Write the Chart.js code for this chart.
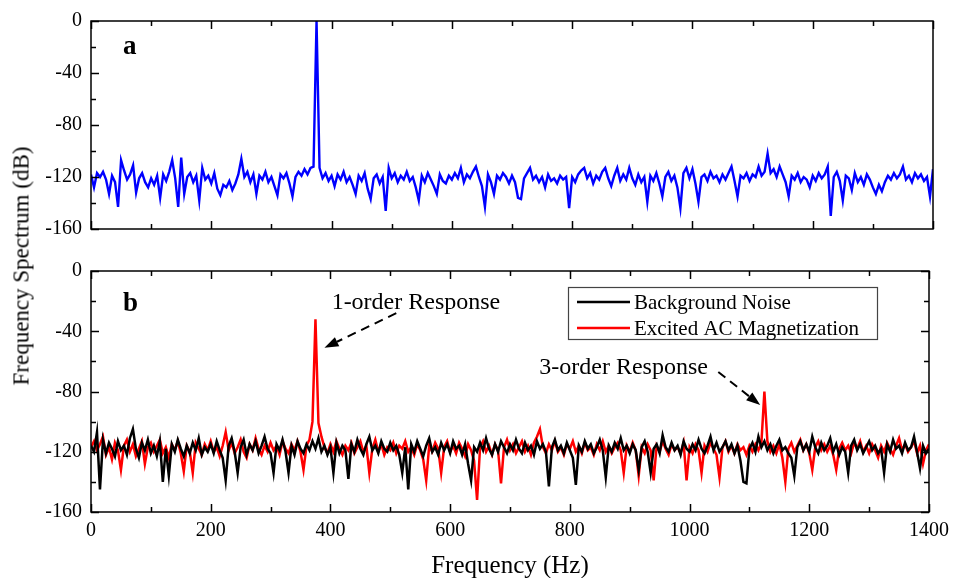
<!DOCTYPE html>
<html>
<head>
<meta charset="utf-8">
<script src="https://cdn.jsdelivr.net/npm/chart.js@4.4.0/dist/chart.umd.min.js"></script>
<style>
body { margin:0; background:#fff; width:956px; height:578px; position:relative; overflow:hidden; font-family:"Liberation Serif", "Times New Roman", serif; }
#wrapA { position:absolute; left:0; top:0; width:956px; height:250px; }
#wrapB { position:absolute; left:0; top:250px; width:956px; height:328px; }
#ytitle { position:absolute; left:21px; top:266px; transform:translate(-50%,-50%) rotate(-90deg); font-size:23px; line-height:1; white-space:nowrap; color:#000; }
</style>
</head>
<body>
<div id="wrapA"><canvas id="chartA" width="956" height="250"></canvas></div>
<div id="wrapB"><canvas id="chartB" width="956" height="328"></canvas></div>
<div id="ytitle">Frequency Spectrum (dB)</div>
<script>
// frequency grid: 0..1400 Hz, 5 Hz bins
var FREQ_STEP = 5;
var FREQ_MAX = 1400;

// panel a : measured spectrum (dB)
var spectrumA = [
  -118,-128,-117,-120,-116,-122,-133,-119,-124,-143,-107,-115,-122,-118,-111,-132,-121,-117,-124,-128,
  -121,-126,-119,-136,-118,-123,-116,-107,-121,-143,-105,-133,-120,-117,-124,-119,-138,-113,-122,-119,
  -125,-117,-129,-134,-126,-128,-123,-130,-125,-118,-106,-120,-116,-124,-118,-133,-119,-122,-116,-124,
  -120,-127,-134,-118,-121,-117,-125,-135,-120,-116,-119,-114,-118,-113,-112,0,-113,-121,-117,-123,
  -119,-127,-118,-122,-116,-124,-120,-126,-133,-119,-123,-117,-129,-137,-121,-118,-125,-120,-146,-113,
  -121,-117,-124,-119,-122,-116,-123,-120,-128,-138,-119,-124,-117,-122,-127,-133,-118,-123,-125,-119,
  -122,-117,-121,-113,-124,-118,-121,-116,-112,-120,-127,-143,-118,-124,-133,-119,-122,-117,-120,-125,
  -119,-124,-136,-137,-121,-117,-113,-122,-119,-124,-120,-128,-118,-123,-121,-125,-119,-122,-120,-144,
  -120,-124,-118,-115,-113,-121,-117,-125,-119,-122,-116,-113,-121,-127,-119,-113,-123,-118,-122,-113,
  -121,-126,-118,-124,-120,-139,-119,-123,-117,-125,-135,-120,-116,-123,-119,-128,-144,-117,-113,-121,
  -114,-125,-139,-120,-118,-123,-116,-121,-119,-124,-118,-122,-117,-112,-123,-135,-119,-121,-117,-123,
  -118,-120,-112,-119,-116,-102,-117,-114,-120,-112,-118,-124,-135,-119,-122,-117,-124,-120,-122,-128,
  -119,-123,-117,-121,-118,-112,-150,-120,-116,-123,-138,-119,-121,-130,-117,-124,-120,-126,-118,-122,
  -128,-133,-126,-131,-124,-119,-122,-117,-121,-118,-112,-122,-119,-124,-117,-121,-118,-123,-120,-135,
  -114
];

// panel b : background noise (dB)
var noiseB = [
  -116,-120,-107,-145,-112,-121,-114,-118,-123,-113,-119,-116,-122,-111,-105,-118,-124,-114,-119,-112,
  -121,-116,-123,-113,-140,-118,-136,-115,-120,-112,-118,-123,-116,-121,-114,-119,-111,-122,-117,-120,
  -115,-121,-113,-119,-124,-139,-116,-111,-120,-134,-117,-112,-122,-115,-119,-113,-121,-116,-110,-118,
  -121,-134,-115,-119,-112,-120,-134,-116,-122,-113,-118,-121,-115,-119,-113,-118,-111,-120,-116,-122,
  -117,-134,-114,-121,-116,-119,-138,-115,-120,-112,-118,-122,-115,-110,-119,-116,-121,-113,-118,-120,
  -114,-119,-116,-122,-134,-117,-145,-115,-120,-113,-118,-123,-116,-111,-120,-117,-122,-114,-119,-115,
  -121,-113,-118,-116,-122,-115,-128,-139,-117,-120,-114,-119,-111,-118,-122,-115,-120,-113,-117,-121,
  -115,-119,-112,-118,-121,-114,-119,-116,-122,-113,-118,-115,-120,-143,-117,-112,-119,-116,-121,-114,
  -119,-124,-142,-116,-120,-113,-118,-115,-121,-117,-112,-119,-137,-116,-120,-114,-118,-111,-119,-116,
  -121,-115,-119,-132,-117,-113,-120,-134,-118,-115,-121,-109,-117,-120,-114,-119,-116,-122,-113,-118,
  -120,-115,-119,-112,-118,-121,-116,-110,-119,-114,-120,-117,-113,-119,-115,-121,-116,-126,-140,-141,
  -118,-114,-120,-110,-117,-113,-119,-115,-121,-116,-112,-119,-117,-121,-124,-136,-117,-113,-119,-115,
  -120,-110,-117,-121,-114,-119,-116,-111,-120,-115,-122,-117,-120,-134,-116,-112,-119,-115,-121,-117,
  -113,-119,-116,-121,-118,-134,-115,-120,-112,-118,-116,-121,-114,-119,-117,-110,-120,-131,-116,-121,
  -118
];

// panel b : excited AC magnetization (dB)
var excitedB = [
  -117,-113,-119,-115,-110,-122,-117,-125,-114,-119,-132,-116,-112,-120,-115,-123,-118,-113,-128,-117,
  -114,-120,-116,-112,-121,-117,-124,-115,-119,-113,-121,-133,-116,-120,-134,-114,-118,-122,-115,-119,
  -113,-120,-117,-123,-116,-107,-119,-114,-121,-117,-112,-120,-124,-115,-119,-111,-118,-122,-116,-120,
  -114,-119,-116,-122,-113,-118,-121,-115,-119,-113,-120,-132,-116,-112,-100,-32,-101,-110,-117,-121,
  -115,-120,-113,-118,-122,-116,-119,-114,-121,-117,-113,-120,-116,-134,-118,-112,-120,-115,-122,-117,
  -119,-114,-121,-116,-118,-113,-120,-117,-122,-115,-119,-125,-139,-116,-120,-114,-118,-134,-117,-113,
  -120,-116,-121,-114,-118,-123,-115,-119,-126,-152,-117,-113,-120,-116,-122,-115,-119,-141,-117,-112,
  -119,-115,-121,-117,-113,-120,-116,-122,-114,-110,-105,-117,-121,-115,-119,-113,-120,-117,-122,-115,
  -118,-113,-120,-116,-121,-114,-119,-117,-122,-115,-119,-113,-120,-116,-121,-117,-114,-119,-134,-116,
  -120,-114,-119,-136,-117,-121,-115,-119,-139,-116,-120,-113,-118,-122,-115,-119,-117,-121,-114,-139,
  -117,-121,-115,-119,-134,-116,-120,-114,-118,-122,-137,-117,-113,-120,-116,-121,-115,-119,-117,-122,
  -116,-120,-115,-119,-114,-80,-113,-120,-116,-121,-115,-124,-140,-118,-114,-120,-116,-112,-119,-115,
  -121,-132,-117,-113,-119,-115,-120,-116,-122,-132,-118,-114,-119,-116,-121,-114,-118,-113,-120,-116,
  -121,-115,-119,-124,-116,-120,-114,-118,-122,-116,-111,-119,-115,-120,-117,-113,-121,-116,-128,-119,
  -115
];

var xTicks = [0, 200, 400, 600, 800, 1000, 1200, 1400];
var yTicks = [0, -40, -80, -120, -160];
var legendLabels = ['Background Noise', 'Excited AC Magnetization'];

Chart.defaults.font.family = '"Liberation Serif", "Times New Roman", serif';
Chart.defaults.color = '#000';

function toPoints(values) {
  return values.map(function (v, i) { return { x: i * FREQ_STEP, y: v }; });
}

// box frame + inward tick marks (major every 200 Hz / 40 dB, minor in between)
function framePlugin(rightTicks) {
  return {
    id: 'frame',
    afterDatasetsDraw: function (chart) {
      var ctx = chart.ctx, a = chart.chartArea, x = chart.scales.x, y = chart.scales.y;
      ctx.save();
      ctx.strokeStyle = '#000';
      ctx.lineWidth = 1.5;
      ctx.strokeRect(a.left, a.top, a.right - a.left, a.bottom - a.top);
      ctx.beginPath();
      for (var f = 0; f <= FREQ_MAX; f += 100) {
        var px = Math.round(x.getPixelForValue(f)) + 0.5;
        var len = f % 200 === 0 ? 8 : 5;
        ctx.moveTo(px, a.bottom); ctx.lineTo(px, a.bottom - len);
        ctx.moveTo(px, a.top); ctx.lineTo(px, a.top + len);
      }
      for (var d = -160; d <= 0; d += 20) {
        var py = Math.round(y.getPixelForValue(d)) + 0.5;
        var l2 = d % 40 === 0 ? 8 : 5;
        ctx.moveTo(a.left, py); ctx.lineTo(a.left + l2, py);
        if (rightTicks) { ctx.moveTo(a.right, py); ctx.lineTo(a.right - l2, py); }
      }
      ctx.stroke();
      ctx.restore();
    }
  };
}

function panelLabel(letter, dy) {
  return {
    id: 'panelLabel',
    afterDraw: function (chart) {
      var ctx = chart.ctx, a = chart.chartArea;
      ctx.save();
      ctx.font = 'bold 27px "Liberation Serif"';
      ctx.fillStyle = '#000';
      ctx.textBaseline = 'alphabetic';
      ctx.fillText(letter, a.left + 32, a.top + dy);
      ctx.restore();
    }
  };
}

function arrow(ctx, x1, y1, x2, y2) {
  var ang = Math.atan2(y2 - y1, x2 - x1);
  var hl = 14, hw = 5;
  var bx = x2 - hl * Math.cos(ang), by = y2 - hl * Math.sin(ang);
  ctx.save();
  ctx.strokeStyle = '#000';
  ctx.lineWidth = 2;
  ctx.setLineDash([9, 6]);
  ctx.beginPath(); ctx.moveTo(x1, y1); ctx.lineTo(bx, by); ctx.stroke();
  ctx.setLineDash([]);
  ctx.fillStyle = '#000';
  ctx.beginPath();
  ctx.moveTo(x2, y2);
  ctx.lineTo(bx + hw * Math.sin(ang), by - hw * Math.cos(ang));
  ctx.lineTo(bx - hw * Math.sin(ang), by + hw * Math.cos(ang));
  ctx.closePath(); ctx.fill();
  ctx.restore();
}

var annotatePlugin = {
  id: 'annotate',
  afterDraw: function (chart) {
    var ctx = chart.ctx, a = chart.chartArea, x = chart.scales.x, y = chart.scales.y;
    ctx.save();
    ctx.fillStyle = '#000';
    ctx.font = '24px "Liberation Serif"';
    ctx.textBaseline = 'alphabetic';
    ctx.fillText('1-order Response', x.getPixelForValue(402), y.getPixelForValue(-25));
    ctx.fillText('3-order Response', x.getPixelForValue(749), y.getPixelForValue(-68.5));
    arrow(ctx, x.getPixelForValue(510), y.getPixelForValue(-28), x.getPixelForValue(390), y.getPixelForValue(-51));
    arrow(ctx, x.getPixelForValue(1048), y.getPixelForValue(-67), x.getPixelForValue(1118), y.getPixelForValue(-89));

    // legend box
    var lx = a.left + 477, ly = a.top + 16, lw = 309, lh = 52;
    ctx.fillStyle = '#fff';
    ctx.fillRect(lx, ly, lw, lh);
    ctx.strokeStyle = '#444';
    ctx.lineWidth = 1.2;
    ctx.strokeRect(lx + 0.5, ly + 0.5, lw, lh);
    var cols = chart.data.datasets.map(function (ds) { return ds.borderColor; });
    ctx.font = '21px "Liberation Serif"';
    ctx.textBaseline = 'middle';
    for (var i = 0; i < legendLabels.length; i++) {
      var cy = ly + 15 + i * 26;
      ctx.strokeStyle = cols[i];
      ctx.lineWidth = 2.5;
      ctx.beginPath(); ctx.moveTo(lx + 9, cy); ctx.lineTo(lx + 62, cy); ctx.stroke();
      ctx.fillStyle = '#000';
      ctx.fillText(legendLabels[i], lx + 66, cy + 1);
    }
    ctx.restore();
  }
};

function baseScales(showX, xHeight) {
  return {
    x: {
      type: 'linear', min: 0, max: FREQ_MAX,
      grid: { display: false, drawTicks: false },
      border: { display: false },
      afterBuildTicks: function (s) { s.ticks = xTicks.map(function (v) { return { value: v }; }); },
      ticks: {
        display: showX, font: { size: 20 }, padding: 7, maxRotation: 0, autoSkip: false,
        callback: function (v) { return String(v); }
      },
      title: showX ? { display: true, text: 'Frequency (Hz)', font: { size: 25, lineHeight: 0.9 }, padding: 0 } : { display: false },
      afterFit: function (s) { s.height = xHeight; }
    },
    y: {
      min: -160, max: 0,
      grid: { display: false, drawTicks: false },
      border: { display: false },
      afterBuildTicks: function (s) { s.ticks = yTicks.map(function (v) { return { value: v }; }); },
      ticks: { font: { size: 20 }, padding: 9, callback: function (v) { return String(v); } },
      afterFit: function (s) { s.width = 91; }
    }
  };
}

var commonOpts = {
  responsive: false,
  animation: false,
  devicePixelRatio: 1,
  plugins: { legend: { display: false }, tooltip: { enabled: false } },
  elements: { point: { radius: 0 }, line: { tension: 0 } }
};

new Chart(document.getElementById('chartA'), {
  type: 'line',
  data: {
    datasets: [{ data: toPoints(spectrumA), borderColor: '#0000ff', borderWidth: 2.4 }]
  },
  options: Object.assign({}, commonOpts, {
    layout: { padding: { top: 20, right: 23, left: 0, bottom: 0 } },
    scales: baseScales(false, 14)
  }),
  plugins: [framePlugin(false), panelLabel('a', 33)]
});

new Chart(document.getElementById('chartB'), {
  type: 'line',
  data: {
    datasets: [
      { label: legendLabels[0], data: toPoints(noiseB), borderColor: '#000000', borderWidth: 2.5 },
      { label: legendLabels[1], data: toPoints(excitedB), borderColor: '#ff0000', borderWidth: 2.5 }
    ]
  },
  options: Object.assign({}, commonOpts, {
    layout: { padding: { top: 19, right: 22, left: 0, bottom: 0 } },
    scales: baseScales(true, 66)
  }),
  plugins: [framePlugin(true), panelLabel('b', 40), annotatePlugin]
});
</script>
</body>
</html>
